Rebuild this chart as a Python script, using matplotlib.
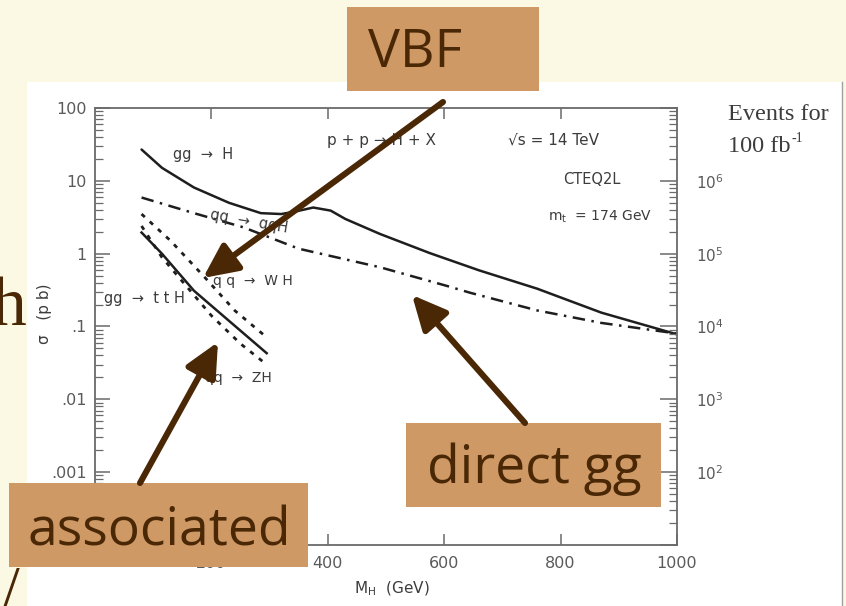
import matplotlib
matplotlib.use("Agg")
import matplotlib.pyplot as plt
from matplotlib.patches import Rectangle, FancyArrowPatch
from matplotlib.ticker import FixedLocator, LogLocator, NullFormatter, FixedFormatter

plt.rcParams['mathtext.fontset'] = 'dejavusans'
plt.rcParams['mathtext.default'] = 'regular'

W, H = 846, 606
SANS = ['DejaVu Sans']
SERIF = ['Liberation Serif', 'DejaVu Serif']
CALLOUT = ['Open Sans', 'DejaVu Sans']

SLIDE_BG = '#FBF9E4'
BOX = '#CF9966'
BROWN = '#4A2806'
INK = '#1e1e1e'
TXT = '#3c3c3c'
TICK_TXT = '#5a5a5a'
AXIS = '#6a6a6a'

# Higgs production cross sections at the LHC (pb) versus Higgs mass (GeV)
mh_gg = [80, 115, 170, 230, 285, 320, 345, 375, 405, 430, 490, 575, 660, 760, 870, 1000]
sig_gg = [26.9, 15.1, 8.1, 5.0, 3.6, 3.5, 3.8, 4.3, 3.9, 3.0, 1.86, 1.02, 0.59, 0.33, 0.155, 0.078]

mh_vbf = [80, 170, 255, 350, 490, 605, 645, 760, 870, 1000]
sig_vbf = [5.9, 3.6, 2.3, 1.17, 0.65, 0.36, 0.29, 0.166, 0.112, 0.080]

mh_tth = [80, 115, 170, 230, 295]
sig_tth = [1.95, 1.0, 0.31, 0.12, 0.043]

mh_wh = [80, 130, 190, 240, 295]
sig_wh = [3.5, 1.5, 0.46, 0.166, 0.071]

mh_zh = [80, 115, 200, 250, 295]
sig_zh = [2.4, 0.89, 0.141, 0.058, 0.030]

y_ticks = [1e2, 1e1, 1e0, 1e-1, 1e-2, 1e-3, 1e-4]
y_tick_labels = ['100', '10', '1', '.1', '.01', '.001', '']
x_ticks = [200, 400, 600, 800, 1000]
x_tick_labels = ['200', '400', '600', '800', '1000']
ev_ticks = [1e1, 1e2, 1e3, 1e4, 1e5, 1e6, 1e7]
ev_tick_labels = ['', '10$^2$', '10$^3$', '10$^4$', '10$^5$', '10$^6$', '']
LUMI = 1e5  # 100 fb^-1 expressed in pb^-1

fig = plt.figure(figsize=(W / 100, H / 100), dpi=100)
fig.patch.set_facecolor(SLIDE_BG)

# slide layer: stray slide text and the white picture area
bg = fig.add_axes([0, 0, 1, 1], zorder=0)
bg.set_xlim(0, W)
bg.set_ylim(H, 0)
bg.axis('off')
bg.text(26, 325, 'h', family=SERIF, fontsize=50, color=BROWN,
        ha='right', va='baseline', zorder=1)
bg.text(11, 566, '/', family=SERIF, fontsize=46, color=BROWN,
        ha='center', va='top', zorder=1)
bg.add_patch(Rectangle((27, 82), 815, H - 80, facecolor='white',
                       edgecolor='none', zorder=2))
bg.plot([842, 842], [82, H], color='#a0a0a0', lw=1.0, zorder=3)

# cross-section chart
ax = fig.add_axes([95 / W, 1 - 545 / H, (677 - 95) / W, (545 - 108) / H], zorder=1)
ax.patch.set_alpha(0)
ax.set_xlim(0, 1000)
ax.set_yscale('log')
ax.set_ylim(1e-4, 1e2)

ax.plot(mh_gg, sig_gg, color=INK, lw=1.8, solid_capstyle='round')
ax.plot(mh_vbf, sig_vbf, color=INK, lw=1.8, linestyle=(0, (5, 2.6, 1, 2.6)))
ax.plot(mh_tth, sig_tth, color=INK, lw=1.8)
ax.plot(mh_wh, sig_wh, color=INK, lw=2.0, linestyle=(0, (1.6, 2.4)))
ax.plot(mh_zh, sig_zh, color=INK, lw=2.0, linestyle=(0, (1.6, 2.4)))

ax.yaxis.set_major_locator(FixedLocator(y_ticks))
ax.yaxis.set_major_formatter(FixedFormatter(y_tick_labels))
ax.yaxis.set_minor_locator(LogLocator(base=10, subs=range(2, 10)))
ax.yaxis.set_minor_formatter(NullFormatter())
ax.xaxis.set_major_locator(FixedLocator(x_ticks))
ax.xaxis.set_major_formatter(FixedFormatter(x_tick_labels))

for s in ax.spines.values():
    s.set_color(AXIS)
    s.set_linewidth(1.3)
ax.tick_params(axis='y', which='major', direction='in', length=11, width=1.1,
               color=AXIS, labelcolor=TICK_TXT, labelsize=11.5, pad=6)
ax.tick_params(axis='y', which='minor', direction='in', length=5.5, width=0.9, color=AXIS)
ax.tick_params(axis='x', which='major', direction='in', length=8, width=1.1, top=True,
               color=AXIS, labelcolor=TICK_TXT, labelsize=11.5, pad=8)
for lab in ax.get_xticklabels() + ax.get_yticklabels():
    lab.set_family(SANS)

ax2 = ax.twinx()
ax2.set_yscale('log')
ax2.set_ylim(1e-4 * LUMI, 1e2 * LUMI)
ax2.yaxis.set_major_locator(FixedLocator(ev_ticks))
ax2.yaxis.set_major_formatter(FixedFormatter(ev_tick_labels))
ax2.yaxis.set_minor_locator(LogLocator(base=10, subs=range(2, 10)))
ax2.yaxis.set_minor_formatter(NullFormatter())
ax2.tick_params(axis='y', which='major', direction='in', length=12, width=1.1,
                color=AXIS, labelcolor=TICK_TXT, labelsize=11, pad=14)
ax2.tick_params(axis='y', which='minor', direction='in', length=5.5, width=0.9, color=AXIS)
for s in ax2.spines.values():
    s.set_visible(False)

# chart captions, labels and callouts (pixel coordinates of the slide)
ov = fig.add_axes([0, 0, 1, 1], zorder=3)
ov.set_xlim(0, W)
ov.set_ylim(H, 0)
ov.axis('off')

def note(x, y, s, size=10, **kw):
    ov.text(x, y, s, family=SANS, fontsize=size, color=TXT,
            ha=kw.pop('ha', 'left'), va=kw.pop('va', 'center'), zorder=2, **kw)

note(173, 155, 'gg  →  H', size=10.5)
note(210, 215, 'qq  →  qqH', size=10.5, rotation=-10, rotation_mode='anchor')
note(213, 281, 'q q  →  W H')
note(104, 298, 'gg  →  t t H', size=10.5)
note(205, 378, 'qq  →  ZH')
note(327, 140, 'p + p → H + X', size=11)
note(508, 140, '√s = 14 TeV', size=11)
note(563, 180, 'CTEQ2L', size=10.5)
note(548, 217, 'm$_t$  = 174 GeV', size=10)
note(45, 314, 'σ   (p b)', size=11, ha='center', rotation=90)
note(392, 589, 'M$_H$  (GeV)', size=11, ha='center')

ov.text(728, 120, 'Events for', family=SERIF, fontsize=17.5, color=TXT,
        ha='left', va='baseline', zorder=2)
ov.text(728, 152, '100 fb', family=SERIF, fontsize=17.5, color=TXT,
        ha='left', va='baseline', zorder=2)
ov.text(792, 142, '-1', family=SERIF, fontsize=10, color=TXT,
        ha='left', va='baseline', zorder=2)

boxes = [
    ((347, 7), 192, 84, 'VBF', (368, 67)),
    ((406, 423), 255, 84, 'direct gg', (427, 483)),
    ((9, 483), 299, 84, 'associated', (28, 545)),
]
for (x0, y0), bw, bh, label, (tx, ty) in boxes:
    ov.add_patch(Rectangle((x0, y0), bw, bh, facecolor=BOX, edgecolor='none', zorder=4))
    ov.text(tx, ty, label, family=CALLOUT, fontsize=38.5, color=BROWN,
            ha='left', va='baseline', zorder=5)

arrows = [((443, 102), (203, 278)), ((525, 423), (412, 295)), ((140, 483), (218, 342))]
for tail, tip in arrows:
    ov.add_patch(FancyArrowPatch(tail, tip,
                                 arrowstyle='-|>,head_length=1.3,head_width=0.62',
                                 mutation_scale=16, lw=4.4, color=BROWN,
                                 shrinkA=0, shrinkB=0, zorder=6))

fig.savefig('out.png', dpi=100, facecolor=fig.get_facecolor())
